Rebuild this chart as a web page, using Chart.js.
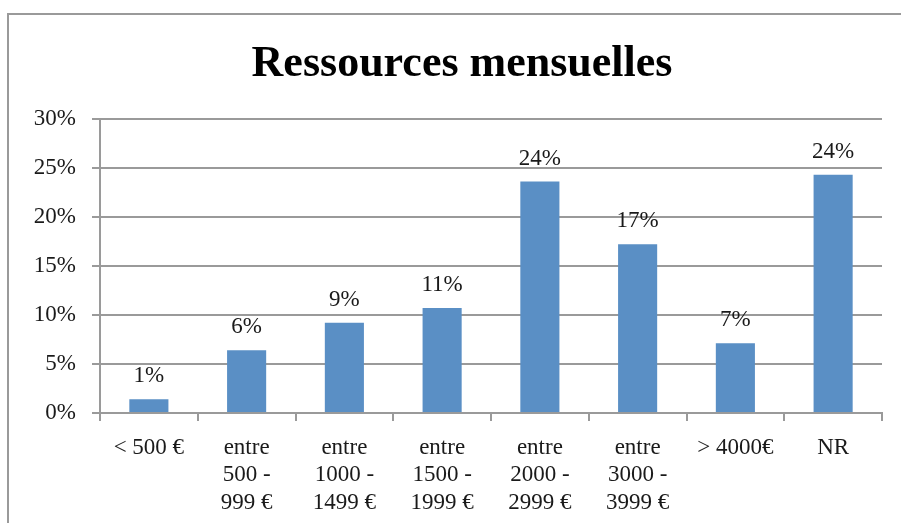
<!DOCTYPE html>
<html>
<head>
<meta charset="utf-8">
<script src="https://cdn.jsdelivr.net/npm/chart.js@4/dist/chart.umd.min.js"></script>
<style>
  body { margin: 0; background: #fff; }
  #wrap { position: relative; width: 901px; height: 523px; overflow: hidden; }
  #cadre { position: absolute; left: 7px; top: 13px; width: 920px; height: 540px;
           border-left: 2px solid #9a9a9a; border-top: 2px solid #9a9a9a; }
  canvas { position: absolute; left: 0; top: 0; }
</style>
</head>
<body>
<div id="wrap">
  <div id="cadre"></div>
  <canvas id="ressources" width="901" height="523"></canvas>
</div>
<script>
// graphique des ressources mensuelles
const categories = [
  "< 500 €",
  ["entre", "500 -", "999 €"],
  ["entre", "1000 -", "1499 €"],
  ["entre", "1500 -", "1999 €"],
  ["entre", "2000 -", "2999 €"],
  ["entre", "3000 -", "3999 €"],
  "> 4000€",
  "NR",
];
const valeurs = [1.4, 6.4, 9.2, 10.7, 23.6, 17.2, 7.1, 24.3];
const ticksY = [0, 5, 10, 15, 20, 25, 30];

const police = "'Liberation Serif', 'Times New Roman', serif";

// étiquettes au-dessus des barres
const etiquettes = {
  id: "etiquettes",
  afterLayout(chart) {
    // laisse les libellés de l'axe y déborder à gauche sans être coupés
    chart.scales.y.left = 0;
  },
  afterDatasetsDraw(chart) {
    const ctx = chart.ctx;
    ctx.save();
    ctx.font = "23px " + police;
    ctx.fillStyle = "#1a1a1a";
    ctx.textAlign = "center";
    ctx.textBaseline = "middle";
    chart.getDatasetMeta(0).data.forEach((bar, i) => {
      ctx.fillText(Math.round(valeurs[i]) + "%", bar.x, bar.y - 23);
    });
    ctx.restore();
  },
};

new Chart(document.getElementById("ressources"), {
  type: "bar",
  data: {
    labels: categories,
    datasets: [
      {
        label: "Ressources mensuelles",
        data: valeurs,
        backgroundColor: "#5a8fc5",
        categoryPercentage: 1,
        barPercentage: 0.4,
      },
    ],
  },
  plugins: [etiquettes],
  options: {
    responsive: false,
    animation: false,
    layout: {
      padding: { left: 42, right: 19, top: 0, bottom: 0 },
    },
    plugins: {
      legend: { display: false },
      tooltip: { enabled: false },
      title: {
        display: true,
        text: "Ressources mensuelles",
        color: "#000",
        font: { family: police, size: 44, weight: "bold", lineHeight: 1.2 },
        padding: { top: 38, bottom: 28 },
      },
    },
    scales: {
      x: {
        grid: {
          drawOnChartArea: false,
          tickLength: 8,
          color: "#9a9a9a",
          lineWidth: 2,
        },
        border: { color: "#9a9a9a", width: 2 },
        ticks: {
          color: "#1a1a1a",
          font: { family: police, size: 23, lineHeight: 1.2 },
          padding: 13,
          maxRotation: 0,
          autoSkip: false,
        },
        afterFit(scale) {
          scale.height = 110;
        },
      },
      y: {
        min: 0,
        max: 30,
        afterBuildTicks(scale) {
          scale.ticks = ticksY.map((v) => ({ value: v }));
        },
        grid: {
          tickLength: 8,
          color: "#9a9a9a",
          lineWidth: 2,
        },
        border: { color: "#9a9a9a", width: 2 },
        ticks: {
          color: "#1a1a1a",
          font: { family: police, size: 23 },
          padding: 16,
          callback: (v) => v + "%",
        },
        afterFit(scale) {
          scale.width = 58;
        },
      },
    },
  },
});
</script>
</body>
</html>
